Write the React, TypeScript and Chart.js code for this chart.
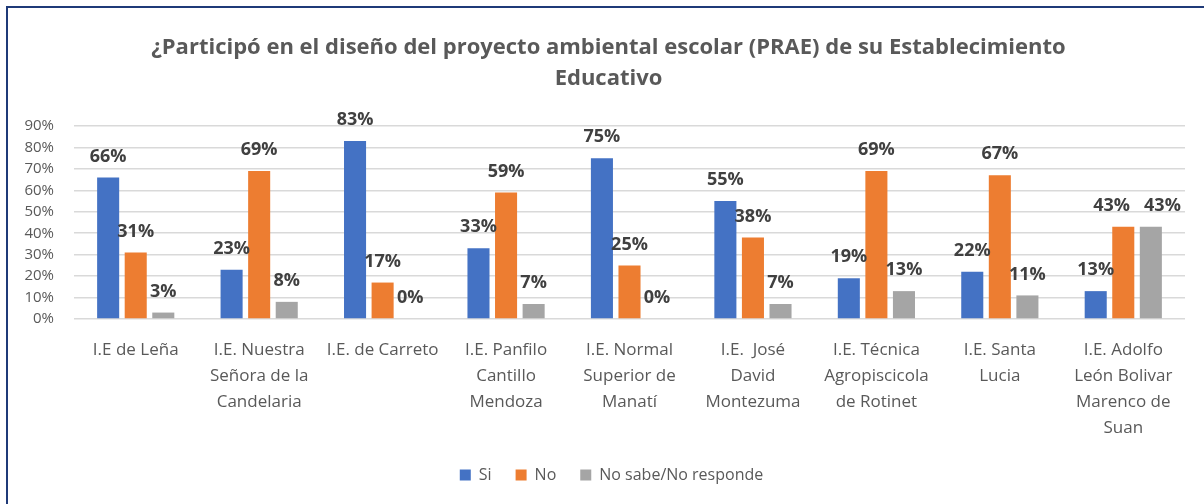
import React, { useEffect, useRef } from "react";
import { Chart, registerables } from "chart.js";

Chart.register(...registerables);

const categories: string[][] = [
  ["I.E de Leña"],
  ["I.E. Nuestra", "Señora de la", "Candelaria"],
  ["I.E. de Carreto"],
  ["I.E. Panfilo", "Cantillo", "Mendoza"],
  ["I.E. Normal", "Superior de", "Manatí"],
  ["I.E.  José", "David", "Montezuma"],
  ["I.E. Técnica", "Agropiscicola", "de Rotinet"],
  ["I.E. Santa", "Lucia"],
  ["I.E. Adolfo", "León Bolivar", "Marenco de", "Suan"],
];

const siValues = [66, 23, 83, 33, 75, 55, 19, 22, 13];
const noValues = [31, 69, 17, 59, 25, 38, 69, 67, 43];
const nsValues = [3, 8, 0, 7, 0, 7, 13, 11, 43];

const seriesNames = ["Si", "No", "No sabe/No responde"];
const titleLines = [
  "¿Participó en el diseño del proyecto ambiental escolar (PRAE) de su Establecimiento",
  "Educativo",
];
const yTicksMax = 90;
const yTicksStep = 10;

const FONT = "'Open Sans', 'Noto Sans', sans-serif";
const TEXT = "#595959";

const dataLabelPlugin = {
  id: "dataLabels",
  afterDatasetsDraw(chart: any) {
    const ctx = chart.ctx;
    ctx.save();
    ctx.font = `bold 18px ${FONT}`;
    ctx.fillStyle = "#404040";
    ctx.textAlign = "center";
    ctx.textBaseline = "middle";
    const n = chart.data.labels.length;
    for (let j = 0; j < n; j++) {
      const items: any[] = [];
      chart.data.datasets.forEach((ds: any, i: number) => {
        const bar: any = chart.getDatasetMeta(i).data[j];
        const text = `${ds.data[j]}%`;
        items.push({ text, x: bar.x, y: bar.y - 21, w: ctx.measureText(text).width });
      });
      // nudge apart labels that collide
      for (let a = 0; a < items.length - 1; a++) {
        const p = items[a];
        const q = items[a + 1];
        if (Math.abs(p.y - q.y) < 18) {
          const need = (p.w + q.w) / 2 + 14 - (q.x - p.x);
          if (need > 0) {
            p.x -= need / 2;
            q.x += need / 2;
          }
        }
      }
      items.forEach((it) => ctx.fillText(it.text, it.x, it.y));
    }
    ctx.restore();
  },
};

const shiftBoxesPlugin = {
  id: "shiftBoxes",
  beforeDraw(chart: any) {
    if (chart.legend) chart.legend.left = 38;
    if (chart.titleBlock) chart.titleBlock.left = 32;
  },
};

export default function App() {
  const ref = useRef<HTMLCanvasElement>(null);
  useEffect(() => {
    document.body.style.margin = "0";
    document.body.style.background = "#ffffff";
    const bar = { categoryPercentage: 0.67, barPercentage: 0.8 };
    const chart = new Chart(ref.current as HTMLCanvasElement, {
      type: "bar",
      data: {
        labels: categories,
        datasets: [
          { label: seriesNames[0], data: siValues, backgroundColor: "#4472C4", ...bar },
          { label: seriesNames[1], data: noValues, backgroundColor: "#ED7D31", ...bar },
          { label: seriesNames[2], data: nsValues, backgroundColor: "#A5A5A5", ...bar },
        ],
      },
      options: {
        responsive: false,
        devicePixelRatio: 1,
        animation: false,
        layout: { padding: { left: 0, right: 19, top: 0, bottom: 11 } },
        plugins: {
          title: {
            display: true,
            text: titleLines,
            color: TEXT,
            font: { family: FONT, size: 22, weight: "bold", lineHeight: 1.41 },
            padding: { top: 32, bottom: 32 },
          },
          legend: {
            position: "bottom",
            labels: {
              boxWidth: 11,
              boxHeight: 11,
              color: TEXT,
              font: { family: FONT, size: 16 },
              padding: 24,
            },
          },
          tooltip: { enabled: false },
        },
        scales: {
          x: {
            grid: { display: false },
            border: { display: false },
            ticks: {
              color: TEXT,
              font: { family: FONT, size: 17, lineHeight: 1.53 },
              maxRotation: 0,
              autoSkip: false,
              padding: 10,
            },
            afterFit: (s: any) => {
              s.height = 124;
            },
          },
          y: {
            min: 0,
            max: yTicksMax,
            ticks: {
              stepSize: yTicksStep,
              autoSkip: false,
              color: TEXT,
              font: { family: FONT, size: 15 },
              padding: 20,
              callback: (v: any) => `${v}%`,
            },
            grid: { color: "#D9D9D9", lineWidth: 1.5, drawTicks: false },
            border: { display: false },
            afterFit: (s: any) => {
              s.width = 74;
            },
          },
        },
      },
      plugins: [shiftBoxesPlugin, dataLabelPlugin],
    } as any);
    return () => chart.destroy();
  }, []);

  return (
    <>
      <div
        style={{
          position: "fixed",
          left: 6,
          top: 6,
          width: 1198,
          height: 498,
          borderTop: "2px solid #1F3A78",
          borderLeft: "2px solid #1F3A78",
          boxSizing: "border-box",
        }}
      />
      <canvas
        ref={ref}
        width={1204}
        height={504}
        style={{ position: "fixed", left: 0, top: 0, width: 1204, height: 504 }}
      />
    </>
  );
}
